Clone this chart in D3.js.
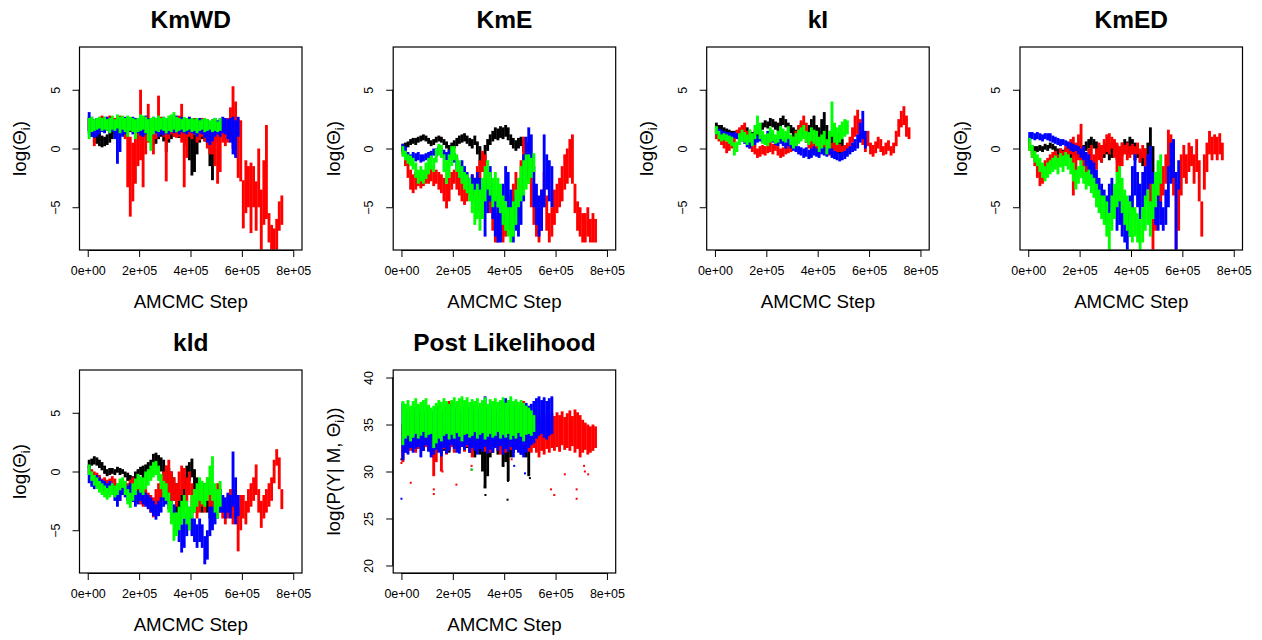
<!DOCTYPE html>
<html><head><meta charset="utf-8">
<script src="https://cdn.jsdelivr.net/npm/d3@7"></script>
<style>
html,body{margin:0;padding:0;background:#fff;}
svg text{font-family:"Liberation Sans",Arial,Helvetica,sans-serif;fill:#000;}
</style></head>
<body>
<script>
// ---------- DATA (per 10k-step bin: [low, high] of the chain trace) ----------
const binStep = 10000;
const titles = ["KmWD","KmE","kI","KmED","kld","Post Likelihood"];
const xTickValues = [0,200000,400000,600000,800000];
const xTickLabels = ["0e+00","2e+05","4e+05","6e+05","8e+05"];
const thetaTicks = [-5,0,5];
const thetaTickLabels = ["\u22125","0","5"];
const postTicks = [20,25,30,35,40];
const postTickLabels = ["20","25","30","35","40"];
const chainColors = {black:"#000000", red:"#FF0000", blue:"#0000FF", green:"#00FF00"};

// KmWD
const KmWD_black = [[1.5,2.7],[1.0,2.5],[0.5,1.8],[0.4,1.5],[0.2,1.3],[0.1,1.1],[0.2,1.0],[0.3,1.2],[0.5,1.4],[0.8,1.8],[1.2,2.2],[1.4,2.4],[1.5,2.5],[1.5,2.6],[1.3,2.5],[1.5,2.6],[1.4,2.5],[1.5,2.6],[1.4,2.5],[1.3,2.4],[1.2,2.5],[1.1,2.6],[1.2,2.4],[1.0,2.5],[0.5,2.3],[0.3,2.0],[0.4,2.2],[0.8,2.4],[1.0,2.3],[0.6,2.4],[-0.3,2.2],[0.5,2.1],[0.8,2.3],[1.0,2.4],[1.1,2.5],[0.9,2.3],[1.0,2.4],[0.6,2.2],[0.2,2.0],[-1.0,1.8],[-2.3,1.5],[-2.0,1.2],[-0.5,1.6],[0.5,1.8],[0.8,2.0],[0.6,2.1],[0.3,2.0],[-1.5,1.8],[-2.7,1.5],[0.5,2.0]];
const KmWD_red = [[1.5,2.5],[1.0,2.6],[0.2,2.4],[1.2,2.6],[1.4,2.7],[1.5,2.8],[1.4,2.6],[1.5,2.7],[1.6,2.8],[1.5,2.7],[1.4,2.6],[1.2,2.5],[1.5,2.8],[1.4,2.7],[0.8,2.6],[-3.3,2.4],[-5.8,1.0],[-4.5,0.5],[-3.0,1.0],[-1.5,1.8],[-1.0,5.0],[-3.3,2.5],[-0.5,2.5],[0.5,3.8],[0.8,2.6],[-0.5,2.5],[0.8,2.6],[1.0,4.5],[1.2,2.7],[1.0,2.6],[-2.8,2.4],[0.8,2.6],[1.2,2.8],[1.0,2.5],[0.9,2.7],[1.0,2.8],[0.5,3.8],[-3.3,2.6],[-0.8,2.6],[1.0,2.7],[0.8,2.5],[1.2,2.6],[0.5,2.5],[0.7,2.4],[1.0,2.6],[0.6,2.5],[0.0,2.5],[-0.5,2.3],[-0.5,2.2],[-1.5,2.0],[-3.0,1.8],[-2.0,2.5],[0.5,2.5],[0.2,2.3],[0.5,2.6],[1.0,3.5],[0.0,5.3],[-0.5,4.0],[-2.5,2.5],[-2.8,2.4],[-6.8,-2.7],[-5.5,-1.0],[-5.0,-1.5],[-7.2,-1.2],[-5.0,-1.5],[-7.0,-2.8],[-5.0,0.0],[-8.6,-3.5],[-6.5,-1.0],[-6.0,2.0],[-8.0,-5.5],[-8.6,-6.5],[-8.6,-6.8],[-8.6,-6.0],[-7.0,-4.5],[-6.5,-4.0]];
const KmWD_blue = [[1.2,3.1],[1.0,2.7],[0.9,2.5],[1.0,2.6],[1.2,2.5],[1.4,2.6],[1.3,2.7],[1.5,2.7],[1.3,2.6],[1.4,2.5],[0.8,2.4],[-1.3,2.3],[-0.3,2.5],[1.0,2.6],[1.2,2.7],[1.3,2.5],[1.5,2.6],[1.2,2.7],[1.4,2.6],[1.3,2.5],[1.1,2.6],[1.0,2.7],[1.2,2.8],[1.3,2.6],[1.4,2.5],[1.2,2.7],[1.3,2.6],[1.0,2.5],[1.2,2.6],[1.1,2.7],[1.3,2.6],[1.2,2.5],[1.4,2.7],[1.3,2.6],[1.5,2.8],[1.2,2.6],[1.4,2.7],[1.3,2.6],[1.2,2.5],[1.4,2.7],[1.3,2.6],[1.2,2.5],[1.0,2.4],[1.3,2.6],[1.2,2.5],[0.9,2.5],[0.5,2.4],[0.3,2.3],[0.6,2.5],[1.0,2.6],[1.2,2.4],[1.0,2.6],[1.3,2.7],[1.2,2.6],[0.8,2.5],[0.5,2.6],[-0.5,2.7],[-0.8,2.4],[1.0,2.7]];
const KmWD_green = [[0.8,2.6],[1.4,2.7],[1.5,2.5],[1.6,2.6],[1.7,2.7],[1.5,2.6],[1.6,2.7],[1.5,2.5],[1.3,2.6],[1.6,2.8],[1.5,2.5],[1.7,2.9],[1.3,2.7],[1.6,2.8],[1.4,2.6],[1.0,2.8],[1.5,2.7],[1.4,2.6],[0.8,2.5],[1.4,2.6],[1.5,2.9],[1.6,2.8],[1.3,2.7],[0.6,2.5],[-0.2,2.6],[1.2,2.7],[1.5,2.6],[1.4,2.8],[1.6,2.6],[1.5,2.7],[1.3,2.6],[1.5,2.8],[1.4,2.9],[1.6,3.1],[1.4,2.7],[1.5,2.6],[1.6,2.5],[1.4,2.7],[1.5,2.6],[1.6,2.5],[1.4,2.6],[1.5,2.5],[1.3,2.6],[1.5,2.4],[1.6,2.5],[1.4,2.6],[1.5,2.5],[1.6,2.4],[1.4,2.5],[1.5,2.6],[1.4,2.3],[1.5,2.6]];

// KmE
const KmE_black = [[-0.2,0.4],[0.0,0.5],[0.1,0.6],[0.3,0.8],[0.4,0.9],[0.3,0.9],[0.5,1.0],[0.6,1.1],[0.7,1.2],[0.6,1.1],[0.4,0.9],[0.2,0.7],[0.3,0.8],[0.5,1.0],[0.6,1.1],[0.5,1.0],[0.3,0.8],[0.0,0.6],[-0.3,0.3],[-0.2,0.5],[0.0,0.7],[0.2,0.9],[0.4,1.1],[0.5,1.2],[0.6,1.3],[0.4,1.1],[0.2,0.9],[0.0,0.8],[0.3,1.1],[-0.5,0.6],[-1.5,0.2],[-2.0,-0.5],[-1.2,0.3],[-0.2,0.8],[0.3,1.2],[0.6,1.5],[0.8,1.8],[0.7,1.7],[0.9,1.9],[0.8,1.8],[1.0,2.0],[0.7,1.8],[0.3,1.2],[0.0,0.9],[-0.2,0.7],[0.0,0.9],[0.2,1.0],[-0.3,0.8],[-0.5,0.5],[-0.3,0.4]];
const KmE_red = [[-0.5,0.2],[-1.5,-0.3],[-2.5,-1.0],[-3.5,-1.8],[-3.8,-2.2],[-3.5,-2.0],[-3.2,-2.0],[-3.4,-2.2],[-3.2,-2.0],[-3.0,-1.8],[-3.0,-2.0],[-2.8,-1.5],[-3.2,-2.0],[-3.0,-1.8],[-3.5,-2.0],[-3.8,-2.2],[-4.5,-2.5],[-5.1,-3.0],[-4.5,-2.5],[-3.5,-2.0],[-3.0,-1.8],[-3.5,-2.0],[-4.0,-2.5],[-4.5,-2.8],[-4.8,-3.0],[-4.5,-2.8],[-4.0,-2.5],[-3.8,-2.2],[-4.0,-2.5],[-3.5,-1.5],[-3.0,-1.0],[-2.0,-0.2],[-3.0,-0.5],[-4.5,-2.5],[-5.5,-3.5],[-7.0,-4.5],[-8.0,-5.5],[-8.0,-6.0],[-7.5,-5.0],[-8.0,-6.0],[-7.5,-5.5],[-6.5,-4.0],[-7.0,-5.0],[-6.0,-3.0],[-5.0,-2.0],[-6.0,-3.5],[-4.5,-1.0],[-3.5,1.0],[-2.5,0.5],[-3.0,-0.5],[-5.0,-2.0],[-6.5,-3.0],[-7.5,-4.0],[-8.0,-5.0],[-7.0,-3.5],[-5.0,-2.0],[-7.0,-4.0],[-8.0,-5.5],[-7.5,-5.0],[-6.5,-3.5],[-5.5,-3.0],[-5.0,-2.5],[-4.5,-1.5],[-3.5,-0.5],[-3.0,0.0],[-2.5,0.8],[-3.0,1.2],[-5.5,-3.0],[-7.0,-4.5],[-7.5,-5.0],[-8.0,-5.5],[-8.0,-5.5],[-7.5,-5.0],[-8.0,-6.0],[-8.0,-5.5],[-8.0,-6.0]];
const KmE_blue = [[-0.3,0.4],[-0.5,0.2],[-1.0,-0.3],[-1.2,-0.5],[-1.0,-0.3],[-1.1,-0.4],[-1.0,-0.3],[-1.2,-0.5],[-1.1,-0.5],[-1.0,-0.4],[-0.9,-0.3],[-0.8,-0.2],[-0.6,0.0],[-0.7,0.0],[-0.4,0.2],[-0.5,0.1],[-0.8,-0.1],[-1.0,-0.3],[-0.8,-0.1],[-0.6,0.0],[-1.2,-0.4],[-1.8,-0.8],[-2.5,-1.2],[-2.4,-1.0],[-2.8,-1.5],[-3.5,-2.0],[-3.8,-2.5],[-4.0,-2.2],[-4.5,-2.5],[-4.0,-2.0],[-5.5,-2.5],[-6.0,-3.0],[-7.5,-3.5],[-5.5,-2.5],[-4.5,-1.5],[-6.0,-3.0],[-7.5,-4.0],[-8.0,-5.0],[-8.0,-4.5],[-6.5,-3.0],[-4.5,-1.5],[-5.5,-2.0],[-7.0,-3.5],[-8.0,-4.5],[-7.0,-4.0],[-7.5,-4.0],[-6.5,-2.5],[-4.5,-0.5],[-2.5,1.0],[-1.0,1.8],[-2.0,1.2],[-5.0,-1.5],[-6.5,-3.0],[-7.5,-4.0],[-7.0,-3.5],[-5.0,1.2],[-3.5,-0.5],[-4.5,-1.0],[-5.0,-1.5]];
const KmE_green = [[-0.7,0.2],[-1.0,-0.2],[-1.3,-0.5],[-1.5,-0.6],[-1.8,-0.8],[-2.5,-1.2],[-3.0,-1.8],[-2.8,-1.5],[-3.0,-1.8],[-2.6,-1.2],[-2.2,-0.8],[-1.8,-0.6],[-2.0,-0.8],[-1.2,0.0],[-0.6,0.4],[-0.8,0.3],[-2.0,-0.5],[-3.0,-1.0],[-2.5,-0.5],[-1.5,0.2],[-1.0,0.2],[-2.0,-0.5],[-2.5,-1.0],[-3.0,-1.5],[-3.5,-2.0],[-3.8,-2.2],[-4.5,-2.5],[-5.5,-3.0],[-6.5,-3.5],[-6.0,-3.0],[-7.0,-3.5],[-6.0,-2.5],[-4.5,-1.5],[-3.5,-1.0],[-4.0,-2.0],[-5.0,-2.5],[-4.5,-2.0],[-5.0,-2.5],[-5.5,-3.0],[-6.5,-4.0],[-7.0,-4.5],[-7.5,-5.0],[-8.0,-5.0],[-7.5,-4.5],[-6.5,-3.5],[-5.0,-2.5],[-4.5,-1.5],[-4.0,-1.0],[-3.5,-0.5],[-3.0,-0.5],[-2.5,-0.8],[-2.0,-0.4]];

// kI
const kI_black = [[1.3,2.2],[1.4,2.0],[1.2,2.0],[1.1,1.8],[1.2,1.7],[1.0,1.6],[1.1,1.5],[1.0,1.5],[1.1,1.5],[1.0,1.6],[1.1,1.8],[1.2,1.9],[1.0,1.8],[0.8,1.6],[0.6,1.4],[0.8,1.5],[1.0,1.8],[1.4,2.0],[1.6,2.2],[1.8,2.4],[1.7,2.3],[1.9,2.6],[1.8,2.5],[1.6,2.3],[1.5,2.2],[1.9,2.6],[2.0,2.8],[1.8,2.5],[1.5,2.2],[1.3,2.0],[1.0,1.8],[0.8,1.6],[1.0,1.8],[1.2,2.2],[1.0,2.0],[0.5,1.5],[0.8,2.0],[0.5,2.5],[0.3,2.8],[0.5,2.0],[0.2,1.8],[0.5,2.5],[0.4,3.1],[0.0,2.0],[0.2,1.5],[-0.2,1.2],[0.0,2.0],[-0.3,1.5],[-0.5,1.2],[-0.2,0.8]];
const kI_red = [[0.8,1.8],[0.6,1.5],[0.3,1.2],[0.0,0.9],[-0.4,0.6],[-0.2,0.6],[0.0,0.8],[0.5,1.3],[0.8,1.6],[1.0,1.8],[1.2,2.0],[1.3,2.2],[0.5,1.5],[0.0,0.8],[-0.3,0.5],[-0.5,0.3],[-0.8,0.0],[-0.7,0.2],[-0.5,0.3],[-0.6,0.2],[-0.4,0.5],[-0.3,0.6],[-0.5,0.4],[-0.2,0.7],[-0.6,0.2],[-0.8,0.0],[-0.7,0.1],[-0.5,0.4],[-0.4,0.5],[-0.3,0.6],[0.0,1.0],[0.3,1.5],[0.5,2.0],[0.8,2.4],[1.0,2.8],[0.5,2.2],[0.0,1.2],[-0.3,0.8],[-0.5,0.5],[-0.2,0.8],[0.0,1.0],[-0.3,0.6],[-0.5,0.4],[-0.3,0.7],[-0.6,0.3],[-0.4,0.5],[-0.2,0.6],[-0.5,0.3],[-0.3,0.4],[-0.6,0.2],[-0.5,0.3],[-0.3,0.5],[0.0,1.0],[0.5,1.8],[1.0,2.8],[1.2,3.3],[0.8,2.5],[0.3,1.5],[-0.3,0.8],[0.2,1.5],[-0.5,0.5],[-0.7,0.3],[-0.4,0.6],[0.0,1.0],[-0.3,0.8],[-0.6,0.2],[-0.5,0.5],[-0.2,0.7],[-0.6,0.2],[-0.4,0.5],[0.2,1.5],[1.0,2.5],[1.8,3.2],[2.0,3.6],[1.0,2.8],[0.8,1.8]];
const kI_blue = [[1.2,1.8],[1.1,1.7],[1.0,1.6],[0.9,1.5],[0.8,1.4],[0.9,1.4],[0.8,1.3],[0.9,1.4],[0.8,1.3],[0.7,1.2],[0.6,1.1],[0.4,1.0],[0.1,0.8],[0.0,0.6],[0.2,0.8],[0.3,0.9],[0.5,1.1],[0.6,1.2],[0.5,1.0],[0.4,1.0],[0.5,1.5],[0.8,1.4],[0.5,1.2],[0.3,1.0],[0.2,0.9],[0.4,1.1],[0.2,1.0],[0.0,0.8],[0.2,0.9],[0.0,0.7],[-0.2,0.6],[-0.3,0.4],[-0.5,0.2],[-0.6,0.1],[-0.8,0.0],[-0.7,0.1],[-0.9,-0.1],[-0.8,0.0],[-0.6,0.2],[-0.7,0.0],[-0.8,-0.1],[-0.5,0.2],[-0.6,0.1],[-0.7,0.0],[-0.5,0.3],[-0.8,0.0],[-0.9,-0.2],[-1.0,-0.3],[-1.1,-0.4],[-1.0,-0.3],[-0.9,-0.2],[-0.7,0.0],[-0.5,0.2],[-0.3,0.5],[-0.2,0.8],[0.0,1.2],[0.5,2.2],[0.8,3.2],[0.0,1.5]];
const kI_green = [[1.2,1.9],[0.8,1.5],[0.6,1.2],[0.7,1.3],[0.6,1.2],[0.4,1.1],[0.2,1.0],[-0.6,0.5],[-0.3,0.6],[0.3,1.3],[0.6,1.6],[0.5,1.4],[0.3,1.2],[0.5,1.6],[0.2,1.3],[0.8,2.0],[1.2,2.8],[0.8,2.2],[0.4,1.5],[0.3,1.2],[0.2,1.3],[0.5,1.8],[0.6,1.6],[0.4,1.2],[0.5,1.5],[0.8,1.9],[0.6,1.7],[0.5,1.5],[0.8,1.9],[0.3,1.2],[0.0,1.0],[0.2,1.3],[0.4,1.6],[0.6,1.8],[0.8,2.0],[0.5,1.5],[0.3,1.4],[0.6,1.8],[0.4,1.6],[0.2,1.5],[-0.3,1.0],[0.0,1.2],[0.3,1.5],[-0.5,0.8],[0.0,1.5],[1.0,4.0],[0.5,2.2],[0.3,1.8],[0.5,2.0],[0.8,2.3],[1.0,2.5],[1.2,2.4]];

// KmED
const KmED_black = [[0.0,0.9],[-0.5,0.3],[-0.4,0.2],[-0.3,0.2],[-0.2,0.3],[-0.3,0.2],[-0.1,0.4],[-0.2,0.3],[0.0,0.5],[-0.1,0.4],[-0.3,0.2],[-0.6,0.0],[-0.5,0.0],[-0.7,-0.1],[-0.6,0.0],[-0.4,0.1],[-0.8,-0.2],[-0.6,0.0],[-0.4,0.2],[-0.8,0.0],[-1.0,-0.2],[-0.6,0.3],[-0.2,0.6],[0.0,0.8],[0.2,1.0],[0.0,0.8],[-0.3,0.6],[-0.8,0.2],[-1.2,0.0],[-0.8,0.3],[-0.5,0.5],[-1.0,0.2],[-0.8,0.5],[-0.5,0.6],[-1.0,0.3],[-1.2,0.0],[-0.6,0.5],[-0.3,0.8],[-0.5,0.6],[-0.2,1.0],[-0.5,0.8],[-1.0,0.5],[-0.8,0.2],[-1.2,-0.2],[-1.5,-0.3],[-1.0,0.0],[-2.0,0.5],[-2.5,1.8],[-2.0,0.2]];
const KmED_red = [[-0.2,0.6],[-0.8,0.2],[-1.5,-0.5],[-2.5,-1.0],[-3.2,-1.8],[-3.0,-1.5],[-2.5,-1.0],[-2.2,-0.8],[-1.8,-0.5],[-1.5,-0.3],[-1.2,-0.2],[-1.5,-0.5],[-1.0,0.0],[-1.4,-0.2],[-1.0,0.2],[-0.8,0.4],[-0.5,0.8],[-4.0,1.0],[-2.5,0.5],[-1.0,1.2],[-1.5,2.1],[-2.5,0.0],[-3.0,-0.5],[-2.0,0.0],[-1.5,0.3],[-2.5,-0.5],[-1.8,0.0],[-1.0,0.5],[-1.2,0.3],[-0.5,0.8],[-0.3,1.2],[-0.5,1.3],[0.0,1.0],[-0.8,0.8],[-2.0,0.5],[-3.0,0.2],[-1.5,0.5],[-0.5,0.3],[-1.0,0.5],[-0.8,0.2],[-0.5,0.4],[-1.0,0.2],[-0.5,0.5],[-1.2,0.0],[-0.8,0.3],[-1.5,0.0],[-3.0,-0.5],[-5.0,-1.0],[-8.6,-2.0],[-7.0,-3.0],[-6.0,-2.5],[-5.0,-2.0],[-4.0,-1.5],[-3.0,-0.5],[-2.0,1.6],[-1.0,1.2],[-4.0,0.5],[-8.6,-4.0],[-7.0,-3.0],[-4.0,-0.5],[-2.5,0.3],[-3.0,-0.5],[-2.0,0.5],[-1.5,0.2],[-3.0,-0.5],[-2.0,0.8],[-4.5,-1.0],[-7.5,-4.5],[-3.5,-0.5],[-2.0,0.5],[-0.5,1.5],[-1.0,1.0],[-0.5,1.2],[-1.0,1.0],[-0.5,1.3],[-1.0,0.5]];
const KmED_blue = [[0.6,1.4],[0.8,1.4],[0.7,1.3],[0.8,1.4],[0.7,1.3],[0.6,1.2],[0.8,1.3],[0.7,1.3],[0.6,1.3],[0.5,1.1],[0.4,1.0],[0.3,0.9],[0.2,0.8],[0.3,0.8],[0.2,0.7],[0.0,0.6],[-0.2,0.5],[-0.3,0.4],[-0.2,0.3],[-0.5,0.2],[-0.8,0.0],[-1.0,0.2],[-1.5,-0.3],[-2.0,-0.5],[-2.5,-1.0],[-3.0,-1.2],[-4.0,-1.8],[-5.0,-2.5],[-5.5,-3.0],[-6.0,-3.5],[-6.5,-4.0],[-5.5,-3.0],[-5.0,-2.5],[-6.0,-3.5],[-7.0,-4.5],[-6.5,-3.5],[-7.5,-4.0],[-8.0,-5.0],[-8.6,-5.5],[-7.5,-4.0],[-5.5,-1.5],[-4.0,-0.5],[-5.0,-2.0],[-6.0,-3.0],[-5.0,-2.0],[-4.5,-1.5],[-3.5,-0.5],[-3.0,0.2],[-5.0,-2.0],[-6.5,-3.5],[-7.0,-4.0],[-6.5,-4.5],[-7.0,-5.0],[-6.5,-3.5],[-5.0,-1.5],[-3.0,0.5],[-2.5,0.8],[-8.6,-2.0],[-3.5,-1.0]];
const KmED_green = [[-0.2,0.9],[-0.8,0.3],[-1.2,-0.2],[-1.5,-0.5],[-2.0,-0.8],[-2.5,-1.2],[-2.8,-1.5],[-2.5,-1.2],[-2.2,-1.0],[-2.0,-0.8],[-1.8,-0.6],[-2.2,-0.8],[-1.6,-0.4],[-2.0,-0.6],[-1.5,-0.3],[-1.8,-0.5],[-2.2,-0.8],[-2.8,-1.2],[-3.5,-1.8],[-3.0,-1.5],[-2.5,-1.0],[-3.0,-1.5],[-3.5,-2.0],[-3.2,-1.8],[-3.8,-2.2],[-4.2,-2.5],[-5.0,-3.0],[-5.5,-3.5],[-6.0,-4.0],[-6.5,-4.0],[-7.5,-4.5],[-8.6,-5.5],[-7.0,-4.0],[-6.0,-3.0],[-5.0,-2.0],[-4.5,-1.5],[-5.5,-2.5],[-6.5,-3.5],[-7.0,-4.0],[-7.5,-4.5],[-8.0,-5.0],[-7.5,-5.0],[-8.0,-5.5],[-8.6,-6.0],[-8.0,-5.0],[-7.0,-4.0],[-6.5,-3.5],[-7.5,-4.5],[-6.0,-3.0],[-5.0,-2.0],[-4.0,-1.0],[-3.0,-0.5]];

// kld
const kld_black = [[0.3,1.0],[0.5,1.1],[0.6,1.3],[0.5,1.2],[0.3,1.0],[0.1,0.8],[-0.2,0.5],[-0.4,0.2],[-0.3,0.3],[-0.2,0.3],[-0.3,0.2],[-0.1,0.4],[-0.3,0.3],[-0.2,0.2],[-0.5,0.0],[-0.8,-0.1],[-1.0,-0.3],[-1.2,-0.4],[-0.8,0.0],[-0.5,0.2],[-0.3,0.4],[-0.6,0.5],[-0.2,0.6],[0.0,0.8],[0.2,1.0],[0.5,1.5],[0.6,1.6],[0.3,1.4],[0.0,1.2],[-0.5,1.0],[-1.0,0.5],[-1.5,0.3],[-2.0,0.0],[-2.5,-0.5],[-3.5,-1.0],[-4.5,-2.0],[-4.0,-1.5],[-3.0,-0.5],[-1.5,0.5],[-0.8,0.8],[-0.5,1.1],[-1.5,0.2],[-2.5,-0.5],[-3.0,-1.0],[-3.5,-1.5],[-3.0,-1.0],[-3.5,-1.5],[-4.0,-2.0],[-3.5,-1.5],[-4.0,-2.5]];
const kld_red = [[-0.2,0.5],[-0.5,0.2],[-0.8,0.0],[-0.9,-0.1],[-1.2,-0.3],[-1.5,-0.6],[-1.4,-0.5],[-1.6,-0.7],[-1.5,-0.6],[-1.3,-0.4],[-1.6,-0.6],[-2.2,-1.0],[-2.5,-1.2],[-2.0,-0.8],[-1.8,-0.8],[-2.0,-1.0],[-1.7,-0.7],[-1.5,-0.5],[-2.0,-1.0],[-2.5,-1.2],[-2.8,-1.5],[-3.0,-1.6],[-2.8,-1.5],[-3.2,-1.8],[-3.5,-2.0],[-3.9,-2.2],[-3.5,-1.5],[-3.0,-1.0],[-2.5,-0.5],[-2.0,0.0],[-1.5,0.5],[-2.0,1.0],[-3.0,0.0],[-2.5,-0.5],[-3.0,-1.0],[-2.5,0.0],[-2.0,0.5],[-1.5,0.3],[-2.5,-0.5],[-2.0,0.0],[-3.0,-1.0],[-3.5,-1.5],[-4.0,-2.0],[-3.5,-1.5],[-3.0,-1.0],[-3.5,-1.5],[-2.5,-0.5],[-3.0,-1.0],[-4.0,-2.0],[-3.5,-1.5],[-3.0,-1.0],[-3.5,-1.5],[-4.0,-2.0],[-4.5,-2.5],[-4.0,-2.0],[-3.5,-1.5],[-4.5,-2.5],[-4.0,-1.5],[-6.8,-3.0],[-5.0,-2.0],[-4.0,-2.0],[-4.5,-2.5],[-3.5,-1.5],[-3.0,-1.0],[-2.5,-0.5],[-2.0,0.6],[-3.5,-1.5],[-4.8,-2.5],[-4.0,-2.0],[-3.5,-1.5],[-3.0,-1.0],[-2.5,-0.5],[-1.0,1.0],[0.5,1.9],[-1.5,1.2],[-3.2,-1.5]];
const kld_blue = [[-1.0,0.5],[-1.3,-0.2],[-1.5,-0.4],[-1.2,-0.3],[-1.4,-0.5],[-1.6,-0.7],[-1.8,-0.8],[-2.0,-1.0],[-1.8,-0.8],[-2.0,-1.0],[-2.5,-1.5],[-3.0,-1.8],[-2.5,-1.2],[-2.0,-0.8],[-2.2,-1.0],[-2.5,-1.2],[-2.2,-1.0],[-2.6,-1.5],[-3.0,-1.8],[-2.8,-1.6],[-2.5,-1.4],[-2.8,-1.6],[-3.0,-1.8],[-3.2,-2.0],[-3.5,-2.2],[-3.8,-2.5],[-4.1,-2.8],[-3.8,-2.5],[-3.5,-2.2],[-3.0,-1.8],[-2.8,-1.5],[-3.2,-2.0],[-3.8,-2.5],[-4.2,-2.8],[-5.0,-3.5],[-6.0,-4.0],[-6.9,-4.5],[-6.5,-4.0],[-5.5,-3.5],[-5.0,-3.0],[-5.5,-3.5],[-6.0,-4.0],[-6.5,-4.5],[-6.0,-4.0],[-6.5,-4.5],[-7.9,-5.5],[-7.5,-5.0],[-5.5,-3.0],[-5.0,-3.0],[-4.5,-2.5],[-4.0,-2.0],[-3.5,-1.5],[-3.5,-2.0],[-4.0,-2.2],[-3.5,-1.8],[-4.0,-2.0],[-3.0,1.7],[-4.5,-0.5],[-3.8,-2.0]];
const kld_green = [[-0.3,0.6],[-0.8,0.0],[-1.2,-0.3],[-1.5,-0.5],[-1.8,-0.8],[-2.0,-1.0],[-2.2,-1.2],[-2.4,-1.4],[-2.2,-1.2],[-2.0,-1.0],[-2.2,-1.2],[-2.0,-1.0],[-1.6,-0.6],[-1.4,-0.5],[-2.0,-0.8],[-2.8,-1.5],[-3.1,-1.8],[-2.5,-1.0],[-2.0,-0.6],[-1.5,-0.2],[-1.8,-0.4],[-2.0,-0.5],[-1.5,0.0],[-1.2,0.2],[-0.8,0.5],[-0.5,0.8],[-0.3,0.9],[-0.8,0.5],[-1.5,-0.2],[-2.2,-0.8],[-2.5,-1.0],[-3.5,-1.8],[-4.5,-2.5],[-5.9,-3.5],[-5.5,-3.5],[-5.0,-3.0],[-4.5,-2.5],[-4.0,-2.0],[-4.5,-2.5],[-5.0,-3.0],[-4.0,-2.0],[-3.5,-1.5],[-3.0,-1.0],[-2.5,-0.5],[-2.8,-0.8],[-3.0,-1.0],[-2.5,-0.5],[-2.0,0.5],[-2.5,1.3],[-3.5,-1.0],[-4.0,-1.5],[-3.0,-0.8]];

// Post Likelihood
const post_black = [[31.2,35.0],[32.5,34.5],[32.8,34.8],[32.4,34.2],[32.6,35.0],[33.0,34.8],[32.5,34.5],[32.8,34.3],[32.2,34.6],[32.6,35.0],[32.8,34.5],[32.5,34.2],[31.5,34.5],[32.0,34.0],[32.4,34.5],[31.8,34.3],[32.2,34.0],[32.5,34.6],[32.0,34.8],[32.6,35.2],[32.8,35.5],[33.0,35.3],[32.4,34.8],[32.8,34.5],[32.2,34.6],[32.5,35.0],[32.0,34.5],[32.6,34.2],[31.5,34.0],[32.2,34.3],[31.8,34.0],[30.0,33.5],[28.2,33.2],[29.5,33.8],[31.5,34.0],[32.0,34.5],[32.5,34.8],[31.8,34.2],[32.4,34.6],[30.5,34.0],[31.0,34.5],[29.0,35.0],[31.5,36.5],[32.0,37.0],[32.5,37.5],[32.2,37.0],[31.8,36.5],[32.4,37.2],[31.5,36.8],[29.5,34.5]];
const post_red = [[31.0,35.0],[32.0,35.5],[32.5,35.8],[32.2,35.4],[32.6,35.9],[32.0,35.6],[32.4,35.2],[32.8,35.7],[32.3,36.0],[32.6,35.5],[32.2,35.8],[32.0,35.4],[29.5,35.0],[31.0,35.5],[32.5,35.9],[30.0,35.2],[32.4,35.6],[31.8,36.0],[32.2,37.5],[32.6,35.8],[32.0,35.4],[32.5,36.2],[32.3,35.7],[32.7,35.9],[32.1,35.5],[32.6,36.0],[32.2,35.6],[31.5,35.8],[32.4,36.1],[32.0,35.5],[32.6,35.9],[32.3,37.5],[32.1,35.6],[32.5,36.0],[32.0,35.7],[32.4,35.4],[32.7,36.2],[32.2,35.8],[31.8,35.5],[32.4,36.0],[32.0,35.6],[32.5,37.6],[32.3,35.9],[32.0,35.5],[32.6,36.1],[32.2,37.0],[32.5,35.8],[32.0,37.5],[32.4,36.0],[32.1,35.7],[32.0,35.0],[32.5,35.5],[32.0,35.8],[31.5,36.0],[32.2,35.6],[31.8,35.5],[32.4,36.0],[32.0,35.7],[32.5,36.2],[32.2,35.9],[32.6,36.3],[32.1,36.0],[32.8,36.4],[32.3,35.8],[32.5,36.2],[32.2,36.5],[32.7,35.9],[32.0,36.6],[32.4,36.3],[31.5,36.0],[32.0,35.5],[32.3,35.2],[31.8,35.0],[32.0,34.8],[32.2,35.0],[32.5,34.8]];
const post_blue = [[31.2,37.3],[32.0,36.5],[31.8,36.8],[32.5,36.2],[32.0,36.5],[32.4,36.9],[32.6,36.4],[31.5,36.8],[32.2,36.3],[32.8,36.6],[32.1,36.9],[31.5,36.2],[31.8,36.5],[32.3,36.8],[32.0,37.0],[31.6,36.4],[32.5,36.7],[31.9,36.9],[32.2,36.5],[32.8,37.2],[32.4,36.6],[32.0,36.9],[31.9,36.4],[32.6,37.0],[32.3,36.8],[32.8,36.5],[32.0,36.9],[32.5,36.7],[32.2,37.1],[31.8,36.6],[32.4,36.9],[32.1,36.5],[32.6,38.0],[31.9,36.8],[32.3,37.2],[32.0,36.9],[32.5,36.6],[32.2,37.0],[32.7,37.5],[31.8,36.8],[32.4,37.8],[32.1,36.6],[32.6,37.2],[31.5,36.9],[32.3,37.0],[32.0,36.7],[31.8,37.1],[31.5,36.8],[32.0,37.3],[32.5,37.0],[32.8,37.2],[33.0,37.5],[33.5,37.8],[33.8,38.0],[34.0,37.6],[33.6,37.9],[33.4,37.5],[33.8,37.8],[34.0,38.0]];
const post_green = [[32.8,37.5],[33.5,37.2],[33.8,37.6],[33.2,37.0],[33.6,37.5],[34.0,37.8],[33.5,37.2],[33.8,37.4],[34.2,37.6],[33.6,37.8],[33.9,37.1],[34.0,36.8],[32.5,37.0],[33.0,37.3],[33.5,37.6],[33.2,37.4],[33.8,37.8],[34.0,37.5],[33.4,37.2],[33.9,37.6],[33.5,37.9],[34.1,37.5],[33.7,37.8],[33.2,38.0],[33.9,37.6],[34.0,37.9],[33.6,37.4],[33.8,37.7],[34.2,37.5],[33.5,37.8],[33.9,37.3],[34.1,37.6],[33.4,37.9],[33.7,37.2],[34.0,37.7],[33.6,37.5],[33.8,37.8],[34.2,37.4],[33.5,37.6],[33.9,37.9],[33.6,37.3],[34.0,37.6],[33.4,38.0],[33.8,37.5],[33.5,37.7],[34.1,37.4],[33.7,37.6],[33.2,37.3],[33.9,37.0],[34.0,36.8],[33.8,36.5],[34.2,36.0]];
// isolated low points of the posterior trace: [step, value]
const post_black_pts = [[0,31.3],[273000,30.2],[327000,27.5],[324000,28.4],[396000,30.6],[413000,27.0],[415000,29.0],[500000,29.3]];
const post_red_pts = [[0,30.9],[36000,28.8],[126000,27.6],[126000,28.1],[160000,30.0],[214000,28.6],[273000,30.6],[429000,31.3],[582000,28.1],[595000,27.5],[636000,29.7],[682000,28.1],[682000,27.1],[711000,30.6],[714000,30.0],[727000,29.7]];
const post_blue_pts = [[0,27.1],[439000,30.6],[481000,29.8]];
const post_green_pts = [[275000,30.2]];

// ---------- LAYOUT ----------
const W = 1262, H = 640;
const colLeft = [79.5, 393.2, 706.7, 1020];
const rowTop = [47, 370];
const boxW = 222.5, boxH = 203;
const xDomain = [-32080, 834080];

const panels = [
  {title:titles[0], col:0,row:0, series:{black:KmWD_black, red:KmWD_red, blue:KmWD_blue, green:KmWD_green}, post:false},
  {title:titles[1], col:1,row:0, series:{black:KmE_black, red:KmE_red, blue:KmE_blue, green:KmE_green}, post:false},
  {title:titles[2], col:2,row:0, series:{black:kI_black, red:kI_red, blue:kI_blue, green:kI_green}, post:false},
  {title:titles[3], col:3,row:0, series:{black:KmED_black, red:KmED_red, blue:KmED_blue, green:KmED_green}, post:false},
  {title:titles[4], col:0,row:1, series:{black:kld_black, red:kld_red, blue:kld_blue, green:kld_green}, post:false},
  {title:titles[5], col:1,row:1, series:{black:post_black, red:post_red, blue:post_blue, green:post_green},
     pts:{black:post_black_pts, red:post_red_pts, blue:post_blue_pts, green:post_green_pts}, post:true}
];

const svg = d3.select("body").append("svg").attr("width", W).attr("height", H);
const order = ["black","red","blue","green"];

panels.forEach((p, pi) => {
  const L = colLeft[p.col], T = rowTop[p.row], B = T + boxH, R = L + boxW;
  const x = d3.scaleLinear().domain(xDomain).range([L, R]);
  const yDom = p.post ? [19.2, 40.8] : [-8.64, 8.64];
  const y = d3.scaleLinear().domain(yDom).range([B, T]);

  const clipId = "clip" + pi;
  svg.append("clipPath").attr("id", clipId).append("rect")
    .attr("x", L).attr("y", T).attr("width", boxW).attr("height", boxH);

  const g = svg.append("g").attr("clip-path", `url(#${clipId})`);
  order.forEach(c => {
    const arr = p.series[c];
    g.append("g").selectAll("rect").data(arr).join("rect")
      .attr("x", (d, i) => x(i * binStep))
      .attr("width", (d, i) => x((i + 1) * binStep) - x(i * binStep) + 0.3)
      .attr("y", d => y(d[1]))
      .attr("height", d => Math.max(1.6, y(d[0]) - y(d[1])))
      .attr("fill", chainColors[c]);
    if (p.pts) {
      g.append("g").selectAll("rect").data(p.pts[c]).join("rect")
        .attr("x", d => x(d[0]) - 1).attr("y", d => y(d[1]) - 1)
        .attr("width", 2).attr("height", 2).attr("fill", chainColors[c]);
    }
  });

  // box
  svg.append("rect").attr("x", L).attr("y", T).attr("width", boxW).attr("height", boxH)
    .attr("fill", "none").attr("stroke", "#000").attr("stroke-width", 1.2);

  // x axis
  const xa = svg.append("g").attr("transform", `translate(0,${B})`)
    .call(d3.axisBottom(x).tickValues(xTickValues).tickFormat((d, i) => xTickLabels[i]).tickSize(7).tickSizeOuter(0).tickPadding(9));
  xa.select(".domain").attr("d", `M${x(0)},0.5H${x(800000)}`).attr("stroke", "#000");
  xa.selectAll(".tick line").attr("stroke", "#000");
  xa.selectAll("text").attr("font-size", "12.5px").attr("fill", "#000");

  // y axis
  const yt = p.post ? postTicks : thetaTicks;
  const ytl = p.post ? postTickLabels : thetaTickLabels;
  const ya = svg.append("g").attr("transform", `translate(${L},0)`)
    .call(d3.axisLeft(y).tickValues(yt).tickFormat((d, i) => ytl[i]).tickSize(7).tickSizeOuter(0));
  ya.select(".domain").attr("d", `M-0.5,${y(yt[0])}V${y(yt[yt.length - 1])}`).attr("stroke", "#000");
  ya.selectAll(".tick line").attr("stroke", "#000");
  ya.selectAll(".tick text").attr("font-size", "12.5px").attr("x", null).attr("dy", null)
    .attr("text-anchor", "middle")
    .attr("transform", "translate(-20,0) rotate(-90)");

  // title
  svg.append("text").attr("x", (L + R) / 2).attr("y", T - 19)
    .attr("text-anchor", "middle").attr("font-size", "24.5px").attr("font-weight", "bold").text(p.title);

  // x label
  svg.append("text").attr("x", (L + R) / 2).attr("y", B + 57.5)
    .attr("text-anchor", "middle").attr("font-size", "18.7px").text("AMCMC Step");

  // y label
  const yl = svg.append("text").attr("transform", `translate(${L - 53.5},${(T + B) / 2}) rotate(-90)`)
    .attr("text-anchor", "middle").attr("font-size", "18.7px");
  if (p.post) {
    yl.append("tspan").text("log(P(Y| M, \u0398");
    yl.append("tspan").attr("font-size", "13px").attr("dy", "4").text("i");
    yl.append("tspan").attr("dy", "-4").text("))");
  } else {
    yl.append("tspan").text("log(\u0398");
    yl.append("tspan").attr("font-size", "13px").attr("dy", "4").text("i");
    yl.append("tspan").attr("dy", "-4").text(")");
  }
});
</script>
</body></html>
